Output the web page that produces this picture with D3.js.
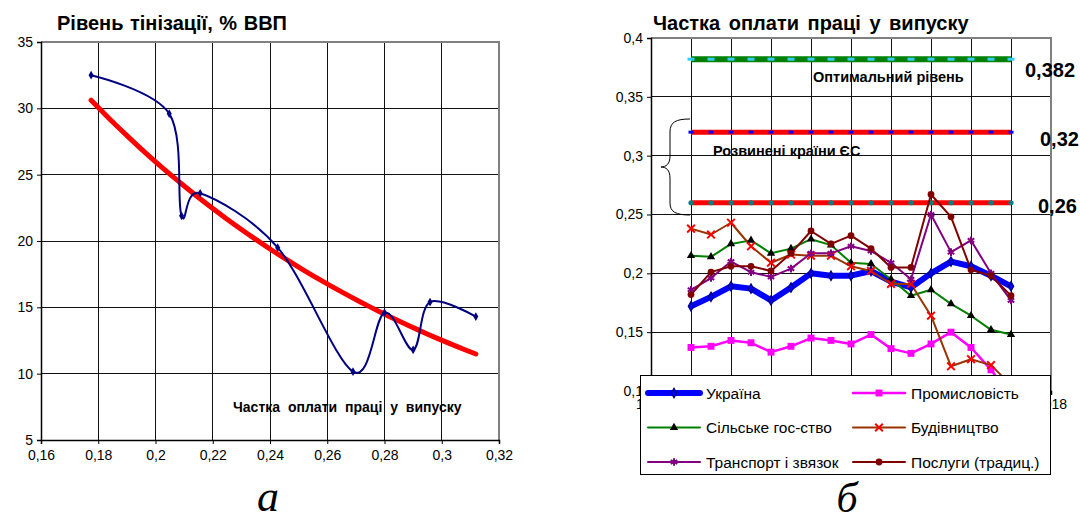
<!DOCTYPE html>
<html><head><meta charset="utf-8">
<script src="https://cdn.jsdelivr.net/npm/d3@7/dist/d3.min.js"></script>
<style>
body{margin:0;background:#fff;}
svg{display:block;}
text{font-family:"Liberation Sans",Arial,sans-serif;fill:#000;}
text.cap{font-family:"Liberation Serif","Times New Roman",serif;font-style:italic;}
</style>
</head><body>
<svg id="c" width="1080" height="522"></svg>
<script>
// ---------- Chart (а) data ----------
const wageShare   = [0.1775,0.2048,0.2091,0.2156,0.2427,0.2690,0.2800,0.2900,0.2959,0.3119];
const shadowLevel = [32.5,29.6,21.9,23.6,19.5,10.15,14.6,11.8,15.4,14.3];
const xTicksA = [0.16,0.18,0.20,0.22,0.24,0.26,0.28,0.30,0.32];
const yTicksA = [5,10,15,20,25,30,35];

// ---------- Chart (б) data ----------
const years = [2000,2001,2002,2003,2004,2005,2006,2007,2008,2009,2010,2011,2012,2013,2014,2015,2016];
const ukraine      = [0.172,0.180,0.189,0.187,0.177,0.188,0.200,0.198,0.198,0.202,0.193,0.188,0.200,0.210,0.206,0.198,0.189];
const industry     = [0.137,0.138,0.143,0.141,0.133,0.138,0.145,0.143,0.140,0.148,0.136,0.132,0.140,0.150,0.137,0.118,0.095];
const agriculture  = [0.215,0.214,0.225,0.228,0.217,0.221,0.229,0.224,0.209,0.208,0.195,0.181,0.186,0.174,0.164,0.152,0.148];
const construction = [0.238,0.233,0.243,0.223,0.209,0.216,0.215,0.215,0.206,0.202,0.191,0.191,0.164,0.121,0.127,0.122,0.105];
const transport    = [0.186,0.196,0.210,0.201,0.197,0.204,0.217,0.217,0.223,0.219,0.209,0.195,0.250,0.218,0.228,0.200,0.177];
const services     = [0.182,0.201,0.206,0.206,0.202,0.217,0.236,0.225,0.232,0.221,0.205,0.205,0.267,0.248,0.203,0.198,0.181];
const levelValues  = [0.382,0.32,0.26];
const levelLabels  = ["0,382","0,32","0,26"];
const xTicksB = [1998,2000,2002,2004,2006,2008,2010,2012,2014,2016,2018];
const xLabelsB = [1998,2018];   // the others are hidden behind the legend
const yTicksB = [0.1,0.15,0.2,0.25,0.3,0.35,0.4];
const seriesNames = ["Україна","Промисловість","Сільське гос-ство","Будівництво","Транспорт  і звязок","Послуги (традиц.)"];

const fmt = v => String(+v.toFixed(2)).replace(".", ",");
const svg = d3.select("#c");

// ================= Chart (а) =================
const xA = d3.scaleLinear().domain([0.16,0.32]).range([41,499]);
const yA = d3.scaleLinear().domain([5,35]).range([440,42]);
const gA = svg.append("g");

gA.selectAll("line.vg").data(xTicksA.slice(1,-1)).join("line")
  .attr("x1",d=>xA(d)).attr("x2",d=>xA(d)).attr("y1",yA(35)).attr("y2",yA(5))
  .attr("stroke","#111").attr("stroke-width",1).attr("shape-rendering","crispEdges");
gA.selectAll("line.hg").data(yTicksA.slice(1,-1)).join("line")
  .attr("x1",xA(0.16)).attr("x2",xA(0.32)).attr("y1",d=>yA(d)).attr("y2",d=>yA(d))
  .attr("stroke","#111").attr("stroke-width",1).attr("shape-rendering","crispEdges");
gA.append("path").attr("d",`M${xA(0.16)},${yA(35)}H${xA(0.32)}V${yA(5)}`)
  .attr("fill","none").attr("stroke","#808080").attr("stroke-width",2);

const axLA = gA.append("g").attr("transform",`translate(${xA(0.16)},0)`)
  .call(d3.axisLeft(yA).tickValues(yTicksA).tickSize(4).tickFormat(d=>d));
const axBA = gA.append("g").attr("transform",`translate(0,${yA(5)})`)
  .call(d3.axisBottom(xA).tickValues(xTicksA).tickSize(4).tickFormat(fmt));
[axLA,axBA].forEach(a=>{
  a.select(".domain").attr("stroke","#000").attr("stroke-width",1.5);
  a.selectAll(".tick line").attr("stroke","#000");
  a.selectAll("text").attr("font-size",14).attr("fill","#000");
});
axLA.selectAll("text").attr("x",-8);
axBA.selectAll("text").attr("y",10);

// exponential trendline (least squares on ln y of the data, as the spreadsheet does)
const lx = wageShare, ly = shadowLevel.map(Math.log);
const mx = d3.mean(lx), my = d3.mean(ly);
const b = d3.sum(lx.map((x,i)=>(x-mx)*(ly[i]-my))) / d3.sum(lx.map(x=>(x-mx)*(x-mx)));
const a = my - b*mx;
const trendX = d3.range(0,41).map(i => d3.min(lx) + (d3.max(lx)-d3.min(lx))*i/40);
gA.append("path").datum(trendX)
  .attr("d", d3.line().x(d=>xA(d)).y(d=>yA(Math.exp(a+b*d))))
  .attr("fill","none").attr("stroke","#ff0000").attr("stroke-width",5).attr("stroke-linecap","round");

const ptsA = wageShare.map((x,i)=>[x,shadowLevel[i]]);
gA.append("path").datum(ptsA)
  .attr("d", d3.line().x(d=>xA(d[0])).y(d=>yA(d[1])).curve(d3.curveCatmullRom.alpha(0)))
  .attr("fill","none").attr("stroke","#000080").attr("stroke-width",2);
gA.selectAll("path.mk").data(ptsA).join("path")
  .attr("d", d3.symbol(d3.symbolDiamond, 22)())
  .attr("transform", d=>`translate(${xA(d[0])},${yA(d[1])})`)
  .attr("fill","#000080");

gA.append("text").attr("x",57).attr("y",30).attr("font-size",20).attr("font-weight","bold")
  .attr("word-spacing",1).text("Рівень тінізації, % ВВП");
gA.append("text").attr("x",233).attr("y",412).attr("font-size",14).attr("font-weight","bold")
  .attr("word-spacing",4).text("Частка оплати праці у випуску");
gA.append("text").attr("class","cap").attr("x",268).attr("y",511).attr("text-anchor","middle")
  .attr("font-size",44).text("а");

// ================= Chart (б) =================
const xB = d3.scaleLinear().domain([1998,2018]).range([651,1051]);
const yB = d3.scaleLinear().domain([0.1,0.4]).range([391,38]);
const gB = svg.append("g");

gB.selectAll("line.vg").data(xTicksB.slice(1,-1)).join("line")
  .attr("x1",d=>xB(d)).attr("x2",d=>xB(d)).attr("y1",yB(0.4)).attr("y2",yB(0.1))
  .attr("stroke","#111").attr("stroke-width",1).attr("shape-rendering","crispEdges");
gB.selectAll("line.hg").data(yTicksB.slice(1,-1)).join("line")
  .attr("x1",xB(1998)).attr("x2",xB(2018)).attr("y1",d=>yB(d)).attr("y2",d=>yB(d))
  .attr("stroke","#111").attr("stroke-width",1).attr("shape-rendering","crispEdges");
gB.append("path").attr("d",`M${xB(1998)},${yB(0.4)}H${xB(2018)}V${yB(0.1)}`)
  .attr("fill","none").attr("stroke","#808080").attr("stroke-width",2);

const axLB = gB.append("g").attr("transform",`translate(${xB(1998)},0)`)
  .call(d3.axisLeft(yB).tickValues(yTicksB).tickSize(4).tickFormat(fmt));
const axBB = gB.append("g").attr("transform",`translate(0,${yB(0.1)})`)
  .call(d3.axisBottom(xB).tickValues(xTicksB).tickSize(4).tickFormat(d=>xLabelsB.includes(d)?d:""));
[axLB,axBB].forEach(a=>{
  a.select(".domain").attr("stroke","#000").attr("stroke-width",1.5);
  a.selectAll(".tick line").attr("stroke","#000");
  a.selectAll("text").attr("font-size",14).attr("fill","#000");
});
axLB.selectAll("text").attr("x",-8);
axBB.selectAll("text").attr("y",8);

svg.append("defs").append("clipPath").attr("id","clipB").append("rect")
  .attr("x",xB(1998)).attr("y",yB(0.4)-6).attr("width",xB(2018)-xB(1998)).attr("height",yB(0.1)-yB(0.4)+6);

const plotB = gB.append("g").attr("clip-path","url(#clipB)");
const lineB = d3.line().x((d,i)=>xB(years[i])).y(d=>yB(d));

const levelStyles = [
  {line:"#008000", w:6, mk:"dash", mkc:"#33ccff"},
  {line:"#ff0000", w:5, mk:"sq",   mkc:"#0000ff"},
  {line:"#ff0000", w:5, mk:"dot",  mkc:"#008080"}
];
levelValues.forEach((v,k)=>{
  const vals = years.map(()=>v);
  const st = levelStyles[k];
  plotB.append("path").datum(vals).attr("d",lineB).attr("fill","none")
    .attr("stroke",st.line).attr("stroke-width",st.w);
  const g = plotB.append("g");
  years.forEach(y=>{
    const cx = xB(y), cy = yB(v);
    if(st.mk==="dash") g.append("rect").attr("x",cx-3.5).attr("y",cy-1.5).attr("width",7).attr("height",3).attr("fill",st.mkc);
    if(st.mk==="sq") g.append("rect").attr("x",cx-2.5).attr("y",cy-1.5).attr("width",5).attr("height",3).attr("fill",st.mkc);
    if(st.mk==="dot") g.append("circle").attr("cx",cx).attr("cy",cy).attr("r",2.6).attr("fill",st.mkc);
  });
  gB.append("text").attr("x",[1025,1040,1038][k]).attr("y",yB(v)+[18,14,10][k])
    .attr("font-size",20).attr("font-weight","bold").text(levelLabels[k]);
});
gB.append("text").attr("x",813).attr("y",82).attr("font-size",14.5).attr("font-weight","bold").text("Оптимальний рівень");
gB.append("text").attr("x",713).attr("y",156).attr("font-size",14.5).attr("font-weight","bold").text("Розвинені країни ЄС");
gB.append("path")
  .attr("d","M690,119 C676,119 670,122 670,132 L670,156 C670,164 666,167 661,167 C666,167 670,170 670,178 L670,203 C670,212 676,215 690,215")
  .attr("fill","none").attr("stroke","#000").attr("stroke-width",1);

const series = [
  {data:ukraine,      color:"#0000ff", w:6,   mk:"diamond", mkc:"#000080", mks:26},
  {data:industry,     color:"#ff00ff", w:2.5, mk:"square",  mkc:"#ff00ff", mks:48},
  {data:agriculture,  color:"#008000", w:2,   mk:"triangle",mkc:"#000000", mks:30},
  {data:construction, color:"#993300", w:2,   mk:"cross",   mkc:"#ff0000", mks:40},
  {data:transport,    color:"#800080", w:2,   mk:"star",    mkc:"#800080", mks:40},
  {data:services,     color:"#800000", w:2,   mk:"circle",  mkc:"#800000", mks:36}
];
const symType = {diamond:d3.symbolDiamond, square:d3.symbolSquare, triangle:d3.symbolTriangle,
                 cross:d3.symbolX, star:d3.symbolAsterisk, circle:d3.symbolCircle};
function drawMarker(g, s, cx, cy){
  const p = g.append("path").attr("d", d3.symbol(symType[s.mk], s.mks)()).attr("transform",`translate(${cx},${cy})`);
  if(s.mk==="cross"||s.mk==="star"){ p.attr("fill","none").attr("stroke",s.mkc).attr("stroke-width",2); }
  else if(s.mk==="diamond"){ p.attr("fill","#0000ff").attr("stroke",s.mkc).attr("stroke-width",1.2); }
  else p.attr("fill",s.mkc);
}
series.forEach(s=>{
  plotB.append("path").datum(s.data).attr("d",lineB).attr("fill","none")
    .attr("stroke",s.color).attr("stroke-width",s.w).attr("stroke-linejoin","round");
});
series.forEach(s=>{
  const g = plotB.append("g");
  s.data.forEach((v,i)=>drawMarker(g,s,xB(years[i]),yB(v)));
});

const lg = gB.append("g");
lg.append("rect").attr("x",640.5).attr("y",375.5).attr("width",410).attr("height",99)
  .attr("fill","#fff").attr("stroke","#000").attr("stroke-width",1);
series.forEach((s,i)=>{
  const col = i%2, row = Math.floor(i/2);
  const x0 = col ? 853 : 648, y0 = 393 + row*34.5;
  lg.append("line").attr("x1",x0).attr("x2",x0+52).attr("y1",y0).attr("y2",y0)
    .attr("stroke",s.color).attr("stroke-width",s.w).attr("stroke-linecap","round");
  drawMarker(lg,s,x0+26,y0);
  lg.append("text").attr("x",x0+58).attr("y",y0+5.5).attr("font-size",15.5).text(seriesNames[i]);
});

gB.append("text").attr("x",653).attr("y",30).attr("font-size",20).attr("font-weight","bold")
  .attr("word-spacing",3).text("Частка оплати праці у випуску");
gB.append("text").attr("class","cap").attr("x",847).attr("y",512).attr("text-anchor","middle")
  .attr("font-size",42).text("б");
</script>
</body></html>
